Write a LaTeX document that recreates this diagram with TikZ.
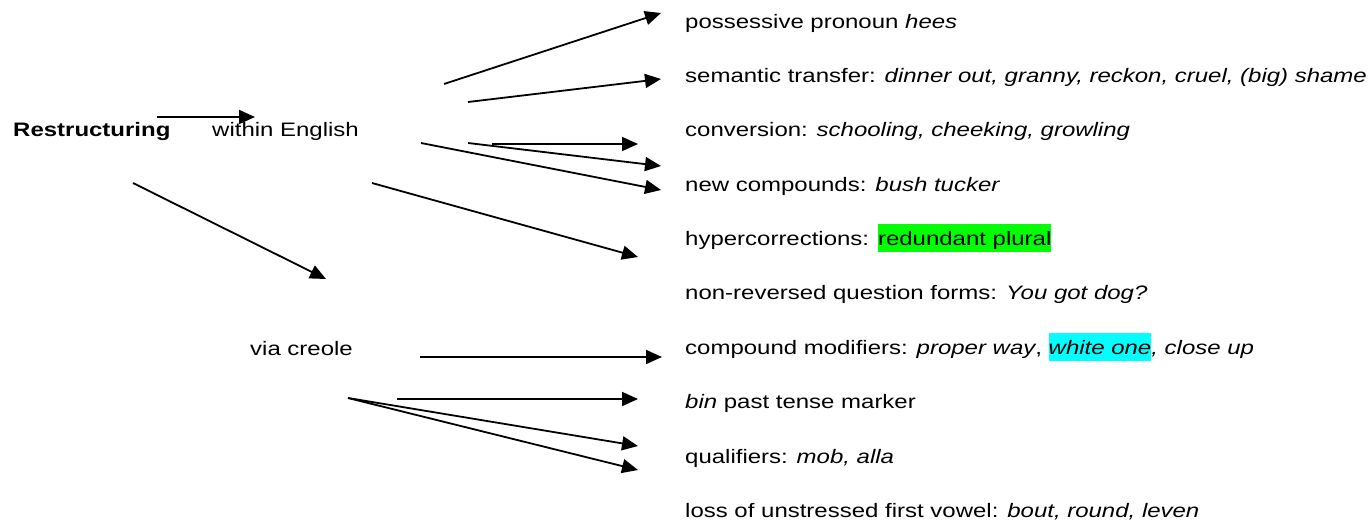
\documentclass[tikz,border=0pt]{standalone}
\usepackage{fontspec}
\setmainfont{Liberation Sans}[FakeStretch=1.23]
\usetikzlibrary{arrows.meta}
\definecolor{hlgreen}{HTML}{00FF00}
\definecolor{hlcyan}{HTML}{00FFFF}
\newcommand{\hlbox}[2]{{\setlength{\fboxsep}{0pt}\colorbox{#1}{\rule[-7pt]{0pt}{28pt}#2}}}
\begin{document}
\begin{tikzpicture}[x=1pt,y=-1pt,
  txt/.style={anchor=base west,inner sep=0pt,font=\fontsize{19.5}{22}\selectfont},
  arr/.style={line width=1.8pt,-{Triangle[length=16pt,width=14pt]}}]
\useasboundingbox (0,0) rectangle (1371,524);
% left labels
\node[txt,font=\fontsize{19.5}{22}\selectfont\bfseries] (restr) at (13,137) {Restructuring};
\node[txt] (within) at (212,137) {within English};
\node[txt] (creole) at (250,355) {via creole};
% right list
\node[txt] (l1) at (685,29) {possessive pronoun \textit{hees}};
\node[txt] (l2) at (685,83) {semantic transfer: \textit{dinner out, granny, reckon, cruel, (big) shame}};
\node[txt] (l3) at (685,137) {conversion: \textit{schooling, cheeking, growling}};
\node[txt] (l4) at (685,191) {new compounds: \textit{bush tucker}};
\node[txt] (l5) at (685,245) {hypercorrections: \hlbox{hlgreen}{redundant plural}};
\node[txt] (l6) at (685,299) {non-reversed question forms: \textit{You got dog?}};
\node[txt] (l7) at (685,354) {compound modifiers: \textit{proper way}, \hlbox{hlcyan}{\textit{white one}}\textit{, close up}};
\node[txt] (l8) at (685,408) {\textit{bin} past tense marker};
\node[txt] (l9) at (685,463) {qualifiers: \textit{mob, alla}};
\node[txt] (l10) at (685,517) {loss of unstressed first vowel: \textit{bout, round, leven}};
% arrow end points
\coordinate (s1) at (157,117); \coordinate (e1) at (255,117);
\coordinate (s2) at (133,183); \coordinate (e2) at (326,279);
\coordinate (sa) at (444,84);  \coordinate (ea) at (661,13);
\coordinate (sb) at (468,102); \coordinate (eb) at (661,79);
\coordinate (sc) at (492,144); \coordinate (ec) at (638,144);
\coordinate (sd) at (468,143); \coordinate (ed) at (661,166);
\coordinate (se) at (421,143); \coordinate (ee) at (661,190);
\coordinate (sf) at (372,183); \coordinate (ef) at (638,257);
\coordinate (sg) at (420,357); \coordinate (eg) at (662,357);
\coordinate (sh) at (397,399); \coordinate (eh) at (638,399);
\coordinate (si) at (348,398); \coordinate (ei) at (638,446);
\coordinate (ej) at (638,470);
\draw[arr] (s1) -- (e1);
\draw[arr] (s2) -- (e2);
\draw[arr] (sa) -- (ea);
\draw[arr] (sb) -- (eb);
\draw[arr] (sc) -- (ec);
\draw[arr] (sd) -- (ed);
\draw[arr] (se) -- (ee);
\draw[arr] (sf) -- (ef);
\draw[arr] (sg) -- (eg);
\draw[arr] (sh) -- (eh);
\draw[arr] (si) -- (ei);
\draw[arr] (si) -- (ej);
\end{tikzpicture}
\end{document}
